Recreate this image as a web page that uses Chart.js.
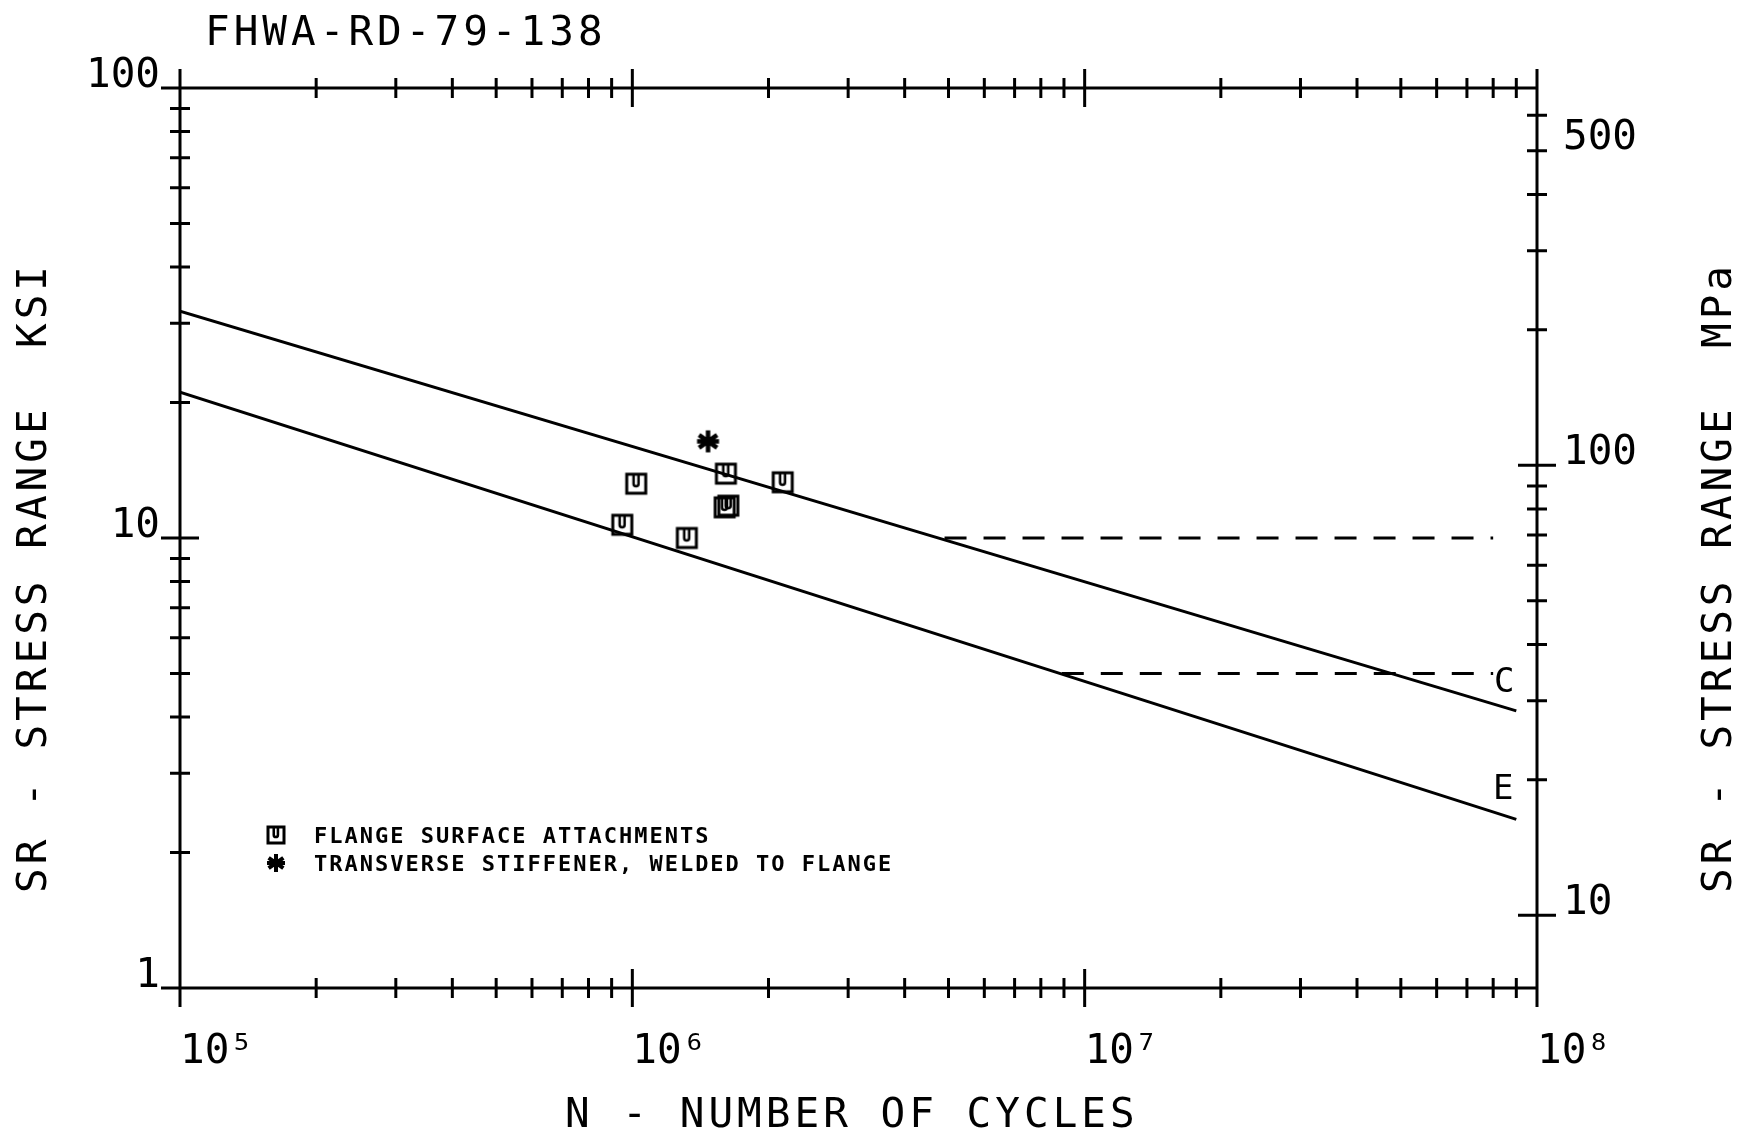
<!DOCTYPE html>
<html>
<head>
<meta charset="utf-8">
<title>FHWA-RD-79-138</title>
<script src="https://cdn.jsdelivr.net/npm/chart.js@4.4.1/dist/chart.umd.min.js"></script>
<style>
	html, body { margin: 0; padding: 0; background: #fff; }
	#wrap { width: 1739px; height: 1132px; }
</style>
</head>
<body>
<div id="wrap"><canvas id="sn-chart" width="1739" height="1132"></canvas></div>
<script>
'use strict';

// texts
var reportNumber = 'FHWA-RD-79-138';
var xTitle = 'N - NUMBER OF CYCLES';
var yTitle = 'SR - STRESS RANGE  KSI';
var y2Title = 'SR - STRESS RANGE  MPa';

// axis ticks (N in cycles, SR in ksi, right axis in MPa)
var xTickValues = [1e5, 1e6, 1e7, 1e8];
var xTickLabels = ['10⁵', '10⁶', '10⁷', '10⁸'];
var xMinorTicks = [2e5, 3e5, 4e5, 5e5, 6e5, 7e5, 8e5, 9e5,
	2e6, 3e6, 4e6, 5e6, 6e6, 7e6, 8e6, 9e6,
	2e7, 3e7, 4e7, 5e7, 6e7, 7e7, 8e7, 9e7];
var yTickValues = [1, 10, 100];
var yTickLabels = ['1', '10', '100'];
var yMinorTicks = [2, 3, 4, 5, 6, 7, 8, 9, 20, 30, 40, 50, 60, 70, 80, 90];
var mpaTickValues = [10, 100, 500];
var mpaTickLabels = ['10', '100', '500'];
var mpaMajorTicks = [10, 100];
var mpaMinorTicks = [20, 30, 40, 50, 60, 70, 80, 90, 200, 300, 400, 500, 600];
var KSI_TO_MPA = 6.894757;

// design curves, category C and E
var curveCyclesC = [1e5, 9.0e7];
var curveStressC = [31.9, 4.13];
var curveCyclesE = [1e5, 9.0e7];
var curveStressE = [21.1, 2.37];

// constant amplitude fatigue limits (dashed)
var limitCyclesC = [4.9e6, 8.0e7];
var limitStressC = [10, 10];
var limitCyclesE = [8.9e6, 8.0e7];
var limitStressE = [5, 5];

// test results
var flangeLabel = 'FLANGE SURFACE ATTACHMENTS';
var flangeCycles = [1.02e6, 9.5e5, 1.32e6, 1.61e6, 1.60e6, 1.63e6, 2.15e6];
var flangeStress = [13.2, 10.7, 10.0, 13.9, 11.7, 11.8, 13.3];
var stiffenerLabel = 'TRANSVERSE STIFFENER, WELDED TO FLANGE';
var stiffenerCycles = [1.47e6];
var stiffenerStress = [16.4];

var MONO = '"DejaVu Sans Mono", "Liberation Mono", monospace';

function pairs(xs, ys){
	var out = [], i;
	for(i = 0; i < xs.length; i++){
		out.push({ x : xs[i], y : ys[i] });
	}
	return out;
}

// square with a "U" hanging from the top edge
function makeFlangeMark(size, lw){
	var c = document.createElement('canvas'),
		g, o = lw, r, ux1, ux2, uy;
	c.width = c.height = size + lw * 2;
	g = c.getContext('2d');
	g.strokeStyle = '#000';
	g.lineWidth = lw;
	g.strokeRect(o, o, size, size);
	ux1 = o + size * 0.36;
	ux2 = o + size * 0.62;
	r = (ux2 - ux1) / 2;
	uy = o + size * 0.5;
	g.lineWidth = lw * 0.85;
	g.beginPath();
	g.moveTo(ux1, o);
	g.lineTo(ux1, uy);
	g.arc(ux1 + r, uy, r, Math.PI, 0, true);
	g.lineTo(ux2, o);
	g.stroke();
	return c;
}

// heavy asterisk
function makeStarMark(r, lw){
	var c = document.createElement('canvas'),
		g, s = Math.ceil(2 * r + lw * 2), m = s / 2,
		angles = [90, 35, 145, 0], i, a;
	c.width = c.height = s;
	g = c.getContext('2d');
	g.strokeStyle = '#000';
	g.lineWidth = lw;
	g.beginPath();
	for(i = 0; i < angles.length; i++){
		a = angles[i] * Math.PI / 180;
		g.moveTo(m - r * Math.cos(a), m - r * Math.sin(a));
		g.lineTo(m + r * Math.cos(a), m + r * Math.sin(a));
	}
	g.stroke();
	return c;
}

var flangeMark = makeFlangeMark(19, 3);
var flangeLegendMark = makeFlangeMark(16, 3);
var starMark = makeStarMark(11, 4.5);
var starLegendMark = makeStarMark(9, 4);

function lineSet(label, xs, ys, dash){
	return {
		label : label,
		data : pairs(xs, ys),
		showLine : true,
		borderColor : '#000',
		borderWidth : 3,
		borderDash : dash || [],
		pointRadius : 0,
		fill : false
	};
}

function drawTicks(ctx, values, scale, fixed, half, vertical){
	var i, p;
	for(i = 0; i < values.length; i++){
		p = scale.getPixelForValue(values[i]);
		if(vertical){
			ctx.moveTo(p, fixed - half);
			ctx.lineTo(p, fixed + half);
		} else {
			ctx.moveTo(fixed - half, p);
			ctx.lineTo(fixed + half, p);
		}
	}
}

function spaced(ctx, px){
	if('letterSpacing' in ctx){
		ctx.letterSpacing = px + 'px';
	}
}

// frame, crossing tick marks, titles, legend and curve letters
var plotDecor = {
	id : 'plotDecor',
	afterDatasetsDraw : function(chart){
		var ctx = chart.ctx, a = chart.chartArea,
			xs = chart.scales.x, ys = chart.scales.y, ms = chart.scales.y2;
		ctx.save();
		ctx.strokeStyle = '#000';
		ctx.lineWidth = 3;
		ctx.beginPath();
		ctx.rect(a.left, a.top, a.right - a.left, a.bottom - a.top);
		drawTicks(ctx, xMinorTicks, xs, a.bottom, 10, true);
		drawTicks(ctx, xTickValues, xs, a.bottom, 19, true);
		drawTicks(ctx, xMinorTicks, xs, a.top, 10, true);
		drawTicks(ctx, xTickValues, xs, a.top, 19, true);
		drawTicks(ctx, yMinorTicks, ys, a.left, 10, false);
		drawTicks(ctx, yTickValues, ys, a.left, 19, false);
		drawTicks(ctx, mpaMinorTicks, ms, a.right, 10, false);
		drawTicks(ctx, mpaMajorTicks, ms, a.right, 19, false);
		ctx.stroke();
		ctx.restore();
	},
	afterDraw : function(chart){
		var ctx = chart.ctx, a = chart.chartArea,
			endC = chart.getDatasetMeta(0).data[1],
			endE = chart.getDatasetMeta(1).data[1];
		ctx.save();
		ctx.fillStyle = '#000';
		ctx.textBaseline = 'alphabetic';
		ctx.textAlign = 'left';

		// report number and axis titles
		ctx.font = '41px ' + MONO;
		spaced(ctx, 4);
		ctx.fillText(reportNumber, a.left + 25, a.top - 43);
		ctx.fillText(xTitle, a.left + 385, a.bottom + 139);

		ctx.save();
		ctx.translate(46, a.bottom - 95);
		ctx.rotate(-Math.PI / 2);
		ctx.fillText(yTitle, 0, 0);
		ctx.restore();

		ctx.save();
		ctx.translate(a.right + 194, a.bottom - 95);
		ctx.rotate(-Math.PI / 2);
		ctx.fillText(y2Title, 0, 0);
		ctx.restore();

		// legend
		ctx.font = 'bold 22px ' + MONO;
		spaced(ctx, 2);
		ctx.drawImage(flangeLegendMark, a.left + 96 - flangeLegendMark.width / 2, a.bottom - 153 - flangeLegendMark.height / 2);
		ctx.fillText(flangeLabel, a.left + 134, a.bottom - 145);
		ctx.drawImage(starLegendMark, a.left + 96 - starLegendMark.width / 2, a.bottom - 125 - starLegendMark.height / 2);
		ctx.fillText(stiffenerLabel, a.left + 134, a.bottom - 117);

		// curve letters at the line ends
		ctx.font = '34px ' + MONO;
		spaced(ctx, 0);
		ctx.textAlign = 'center';
		ctx.textBaseline = 'middle';
		ctx.fillText('C', endC.x - 12, endC.y - 28);
		ctx.fillText('E', endE.x - 13, endE.y - 29);
		ctx.restore();
	}
};

var tickFont = { family : MONO, size : 41 };

var chart = new Chart(document.getElementById('sn-chart').getContext('2d'), {
	type : 'scatter',
	data : {
		datasets : [
			lineSet('C', curveCyclesC, curveStressC),
			lineSet('E', curveCyclesE, curveStressE),
			lineSet('C limit', limitCyclesC, limitStressC, [22, 17]),
			lineSet('E limit', limitCyclesE, limitStressE, [22, 17]),
			{
				label : flangeLabel,
				data : pairs(flangeCycles, flangeStress),
				pointStyle : flangeMark,
				pointRadius : 10,
				showLine : false
			},
			{
				label : stiffenerLabel,
				data : pairs(stiffenerCycles, stiffenerStress),
				pointStyle : starMark,
				pointRadius : 10,
				showLine : false
			}
		]
	},
	options : {
		responsive : false,
		animation : false,
		devicePixelRatio : 1,
		events : [],
		layout : { padding : { top : 88, left : 0, right : 0, bottom : 0 } },
		plugins : {
			legend : { display : false },
			tooltip : { enabled : false },
			title : { display : false }
		},
		scales : {
			x : {
				type : 'logarithmic',
				position : 'bottom',
				min : 1e5,
				max : 1e8,
				grid : { display : false, drawTicks : false },
				border : { display : false },
				afterBuildTicks : function(scale){
					scale.ticks = xTickValues.map(function(v){ return { value : v }; });
				},
				afterFit : function(scale){ scale.height = 144; },
				ticks : {
					autoSkip : false,
					maxRotation : 0,
					minRotation : 0,
					align : 'start',
					padding : 40,
					color : '#000',
					font : tickFont,
					callback : function(value, index){ return xTickLabels[index]; }
				}
			},
			y : {
				type : 'logarithmic',
				position : 'left',
				min : 1,
				max : 100,
				grid : { display : false, drawTicks : false },
				border : { display : false },
				afterBuildTicks : function(scale){
					scale.ticks = yTickValues.map(function(v){ return { value : v }; });
				},
				afterFit : function(scale){ scale.width = 180; },
				ticks : {
					autoSkip : false,
					padding : 20,
					labelOffset : -12,
					color : '#000',
					font : tickFont,
					callback : function(value, index){ return yTickLabels[index]; }
				}
			},
			y2 : {
				type : 'logarithmic',
				position : 'right',
				min : 1 * KSI_TO_MPA,
				max : 100 * KSI_TO_MPA,
				grid : { display : false, drawTicks : false },
				border : { display : false },
				afterBuildTicks : function(scale){
					scale.ticks = mpaTickValues.map(function(v){ return { value : v }; });
				},
				afterFit : function(scale){ scale.width = 202; },
				ticks : {
					autoSkip : false,
					padding : 26,
					labelOffset : -12,
					color : '#000',
					font : tickFont,
					callback : function(value, index){ return mpaTickLabels[index]; }
				}
			}
		}
	},
	plugins : [plotDecor]
});
</script>
</body>
</html>
